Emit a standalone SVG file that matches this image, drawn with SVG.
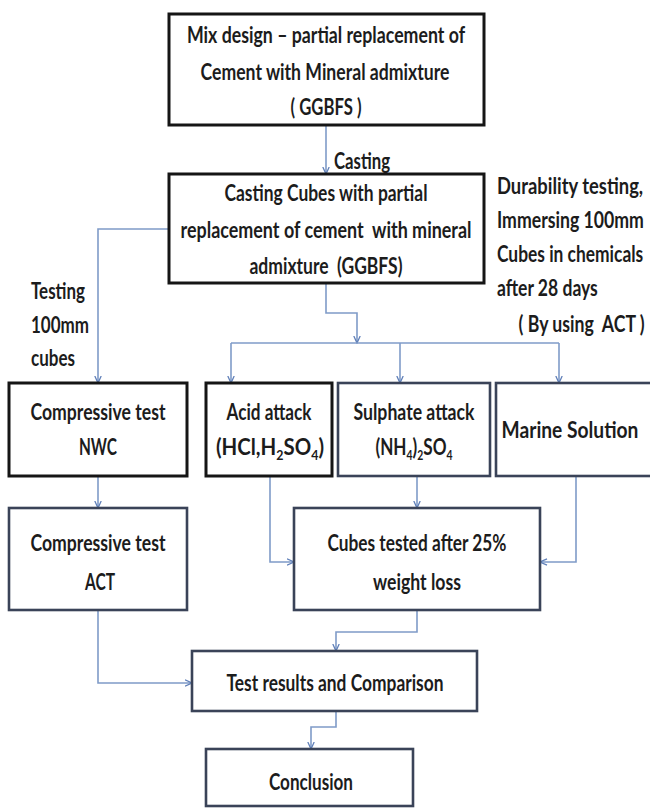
<svg xmlns="http://www.w3.org/2000/svg" width="650" height="808" viewBox="0 0 650 808">
<defs>
<style>
.b{fill:#fff;stroke:#151515;stroke-width:3}
.b2{fill:#fff;stroke:#3a4358;stroke-width:2.6}
.t{font-family:Lato,"Open Sans","Liberation Sans",sans-serif;font-weight:700;font-size:23px;fill:#1c1c1c;text-anchor:middle}
.l{font-family:Lato,"Open Sans","Liberation Sans",sans-serif;font-weight:700;font-size:23px;fill:#1c1c1c;text-anchor:start}
.c{fill:none;stroke:#7f9bc8;stroke-width:1.6}
.p{white-space:pre}
</style>
<marker id="ah" viewBox="0 0 8 8" refX="7.5" refY="4" markerWidth="8" markerHeight="8" markerUnits="userSpaceOnUse" orient="auto">
<path d="M0.5,0.8 L7.5,4 L0.5,7.2" fill="none" stroke="#5f7fb8" stroke-width="1.3"/>
</marker>
</defs>
<rect width="650" height="808" fill="#fff"/>

<g id="connectors">
<path class="c" d="M326,125 V174" marker-end="url(#ah)"/>
<path class="c" d="M169,229 H98 V383" marker-end="url(#ah)"/>
<path class="c" d="M326,283 V313 H357 V343" marker-end="url(#ah)"/>
<path class="c" d="M231,343 H559"/>
<path class="c" d="M231,343 V383" marker-end="url(#ah)"/>
<path class="c" d="M400,343 V383" marker-end="url(#ah)"/>
<path class="c" d="M559,343 V383" marker-end="url(#ah)"/>
<path class="c" d="M98,476 V508" marker-end="url(#ah)"/>
<path class="c" d="M270,476 V562 H294" marker-end="url(#ah)"/>
<path class="c" d="M417,476 V508" marker-end="url(#ah)"/>
<path class="c" d="M576,476 V562 H540" marker-end="url(#ah)"/>
<path class="c" d="M98,610 V683 H192" marker-end="url(#ah)"/>
<path class="c" d="M417,610 V632 H336 V651" marker-end="url(#ah)"/>
<path class="c" d="M336,711 V727 H311 V749" marker-end="url(#ah)"/>
<text class="l" x="334" y="169" textLength="56" lengthAdjust="spacingAndGlyphs">Casting</text>
</g>

<g id="mix">
<rect class="b" x="169" y="14" width="315" height="111"/>
<text class="t" x="326" y="43" textLength="278" lengthAdjust="spacingAndGlyphs">Mix design – partial replacement of</text>
<text class="t" x="325" y="80" textLength="249" lengthAdjust="spacingAndGlyphs">Cement with Mineral admixture</text>
<text class="t" x="326" y="115" textLength="71" lengthAdjust="spacingAndGlyphs">( GGBFS )</text>
</g>

<g id="casting">
<rect class="b" x="169" y="174" width="315" height="109"/>
<text class="t" x="326" y="201" textLength="203" lengthAdjust="spacingAndGlyphs">Casting Cubes with partial</text>
<text class="t p" x="326" y="238" textLength="291" lengthAdjust="spacingAndGlyphs">replacement of cement  with mineral</text>
<text class="t p" x="326" y="274" textLength="153" lengthAdjust="spacingAndGlyphs">admixture  (GGBFS)</text>
</g>

<g id="durability-note" transform="translate(497,0) scale(0.72,1)">
<text class="l" x="0" y="194" textLength="203" lengthAdjust="spacingAndGlyphs">Durability testing,</text>
<text class="l" x="0" y="228" textLength="204" lengthAdjust="spacingAndGlyphs">Immersing 100mm</text>
<text class="l" x="0" y="262" textLength="203" lengthAdjust="spacingAndGlyphs">Cubes in chemicals</text>
<text class="l" x="0" y="296" textLength="140" lengthAdjust="spacingAndGlyphs">after 28 days</text>
<text class="l p" x="30" y="332" textLength="175" lengthAdjust="spacingAndGlyphs">( By using  ACT )</text>
</g>

<g id="testing-note">
<text class="l" x="31" y="299" textLength="54" lengthAdjust="spacingAndGlyphs">Testing</text>
<text class="l" x="31" y="333" textLength="58" lengthAdjust="spacingAndGlyphs">100mm</text>
<text class="l" x="31" y="366" textLength="44" lengthAdjust="spacingAndGlyphs">cubes</text>
</g>

<g id="nwc">
<rect class="b" x="9" y="383" width="178" height="93"/>
<text class="t" x="98" y="420" textLength="135" lengthAdjust="spacingAndGlyphs">Compressive test</text>
<text class="t" x="98" y="455" textLength="38" lengthAdjust="spacingAndGlyphs">NWC</text>
</g>

<g id="acid">
<rect class="b" x="206" y="383" width="126" height="93"/>
<text class="t" x="269" y="420" textLength="85" lengthAdjust="spacingAndGlyphs">Acid attack</text>
<text class="t" x="270" y="455" textLength="108" lengthAdjust="spacingAndGlyphs">(HCl,H<tspan font-size="14" baseline-shift="-5">2</tspan>SO<tspan font-size="14" baseline-shift="-5">4</tspan>)</text>
</g>

<g id="sulphate">
<rect class="b2" x="338" y="383" width="152" height="93"/>
<text class="t" x="414" y="420" textLength="121" lengthAdjust="spacingAndGlyphs">Sulphate attack</text>
<text class="t" x="414" y="455" textLength="77" lengthAdjust="spacingAndGlyphs">(NH<tspan font-size="14" baseline-shift="-5">4</tspan>)<tspan font-size="14" baseline-shift="-5">2</tspan>SO<tspan font-size="14" baseline-shift="-5">4</tspan></text>
</g>

<g id="marine">
<rect class="b2" x="496" y="383" width="160" height="93"/>
<text class="t" transform="translate(570,438) scale(0.8,1)" x="0" y="0" textLength="171" lengthAdjust="spacingAndGlyphs">Marine Solution</text>
</g>

<g id="act">
<rect class="b2" x="9" y="508" width="178" height="102"/>
<text class="t" x="98" y="551" textLength="135" lengthAdjust="spacingAndGlyphs">Compressive test</text>
<text class="t" x="100" y="590" textLength="30" lengthAdjust="spacingAndGlyphs">ACT</text>
</g>

<g id="cubes-tested">
<rect class="b2" x="294" y="508" width="246" height="102"/>
<text class="t" x="417" y="551" textLength="179" lengthAdjust="spacingAndGlyphs">Cubes tested after 25%</text>
<text class="t" x="417" y="590" textLength="88" lengthAdjust="spacingAndGlyphs">weight loss</text>
</g>

<g id="results">
<rect class="b2" x="192" y="651" width="285" height="60"/>
<text class="t" x="335" y="691" textLength="217" lengthAdjust="spacingAndGlyphs">Test results and Comparison</text>
</g>

<g id="conclusion">
<rect class="b2" x="206" y="749" width="207" height="57"/>
<text class="t" x="311" y="790" textLength="84" lengthAdjust="spacingAndGlyphs">Conclusion</text>
</g>
</svg>
